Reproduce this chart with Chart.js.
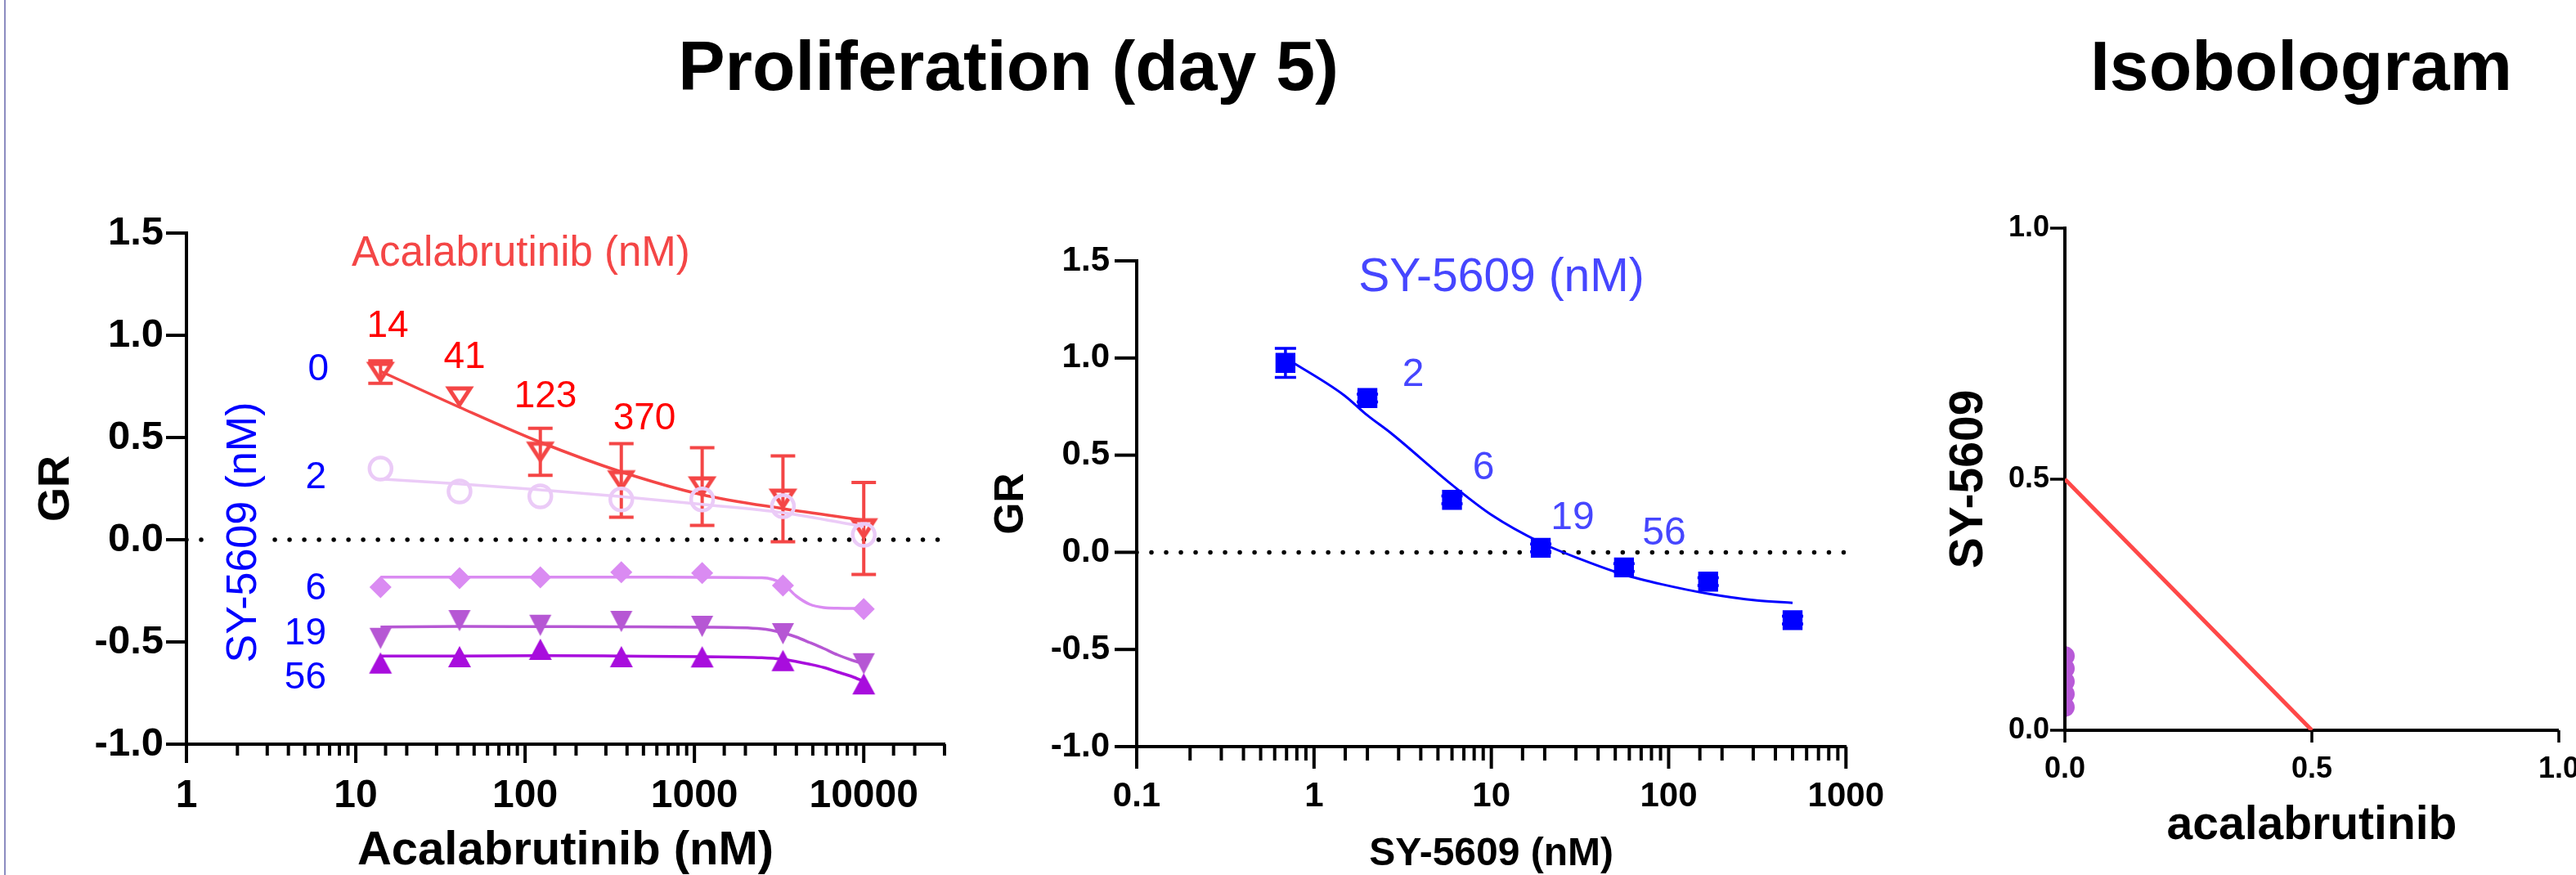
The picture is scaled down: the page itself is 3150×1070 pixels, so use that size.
<!DOCTYPE html>
<html><head><meta charset="utf-8">
<script src="https://cdn.jsdelivr.net/npm/chart.js@4.4.1/dist/chart.umd.min.js"></script>
<style>
html,body{margin:0;padding:0;background:#fff;}
body{width:3150px;height:1070px;overflow:hidden;position:relative;font-family:"Liberation Sans",Arial,sans-serif;}
canvas{position:absolute;top:0;}
.title{position:absolute;top:38px;width:1000px;text-align:center;font-weight:bold;font-size:86px;line-height:85px;color:#000;white-space:nowrap;}
#edge{position:absolute;left:5px;top:0;width:2px;height:1070px;background:#8c8cc0;}
</style></head><body>
<div id="edge"></div>
<div class="title" style="left:733px">Proliferation (day 5)</div>
<div class="title" style="left:2314px">Isobologram</div>
<canvas id="c1" width="1190" height="1070" style="left:0px;width:1190px;height:1070px"></canvas>
<canvas id="c2" width="1150" height="1070" style="left:1190px;width:1150px;height:1070px"></canvas>
<canvas id="c3" width="850" height="1070" style="left:2330px;width:850px;height:1070px"></canvas>
<script>
// ---------------- DATA ----------------
// Panel 1: acalabrutinib dose response at fixed SY-5609 doses
const acalaConc = [14, 41, 123, 370, 1111, 3333, 10000];
const gr_SY0  = [0.82, 0.70, 0.43, 0.29, 0.26, 0.20, 0.055];
const sem_SY0 = [0.055, 0, 0.115, 0.18, 0.19, 0.21, 0.225];
const gr_SY2  = [0.348, 0.236, 0.212, 0.197, 0.197, 0.164, 0.024];
const gr_SY6  = [-0.232, -0.188, -0.184, -0.159, -0.163, -0.224, -0.339];
const gr_SY19 = [-0.483, -0.396, -0.419, -0.400, -0.424, -0.460, -0.607];
const gr_SY56 = [-0.603, -0.572, -0.536, -0.572, -0.573, -0.591, -0.705];
// fitted curves
const fitY_SY0 = [0.824, 0.648, 0.477, 0.332, 0.22, 0.152, 0.096];
const fitY_SY2 = [0.297, 0.273, 0.244, 0.211, 0.173, 0.132, 0.064];
const fitX_tail = [14, 41, 123, 370, 1111, 2500, 3333, 4000, 4800, 5800, 7000, 8500, 10000];
const fitY_SY6  = [-0.183, -0.183, -0.183, -0.183, -0.184, -0.186, -0.216, -0.276, -0.316, -0.332, -0.335, -0.336, -0.336];
const fitY_SY19 = [-0.427, -0.424, -0.425, -0.426, -0.428, -0.436, -0.456, -0.476, -0.503, -0.532, -0.563, -0.589, -0.607];
const fitY_SY56 = [-0.569, -0.569, -0.567, -0.569, -0.572, -0.577, -0.585, -0.596, -0.609, -0.625, -0.647, -0.669, -0.693];
const acalaDoseLabels = ['14', '41', '123', '370'];
const syDoseLabels1 = ['0', '2', '6', '19', '56'];

// Panel 2: SY-5609 dose response
const syConc = [0.69, 2, 6, 19, 56, 167, 500];
const gr_SY  = [0.975, 0.794, 0.27, 0.023, -0.078, -0.151, -0.349];
const sem_SY = [0.075, 0.02, 0.02, 0.02, 0.02, 0.02, 0.02];
const fitX_SY = [0.69, 1.47, 2, 2.72, 6, 10, 19, 32.4, 56, 91, 167, 315, 500];
const fitY_SY = [1.0, 0.81, 0.705, 0.613, 0.347, 0.193, 0.05, -0.038, -0.115, -0.164, -0.213, -0.248, -0.26];
const syDoseLabels2 = ['2', '6', '19', '56'];

// Panel 3: isobologram
const isoAddX = [0, 0.5];
const isoAddY = [0.5, 0];
const isoComboX = [0, 0, 0, 0, 0];
const isoComboY = [0.148, 0.123, 0.097, 0.072, 0.046];

// axis ranges
const GR_MIN = -1, GR_MAX = 1.5, GR_STEP = 0.5;
const ACALA_MIN = 1, ACALA_MAX = 30000;
const SY_MIN = 0.1, SY_MAX = 1000;
const ISO_MIN = 0, ISO_MAX = 1, ISO_STEP = 0.5;

// ---------------- STYLE ----------------
const FONT = '"Liberation Sans", Arial, sans-serif';
Chart.defaults.font.family = FONT;
Chart.defaults.color = '#000';
const C = {
  red: '#F44646', redText: '#FF0000', lav: '#EBCBF7', sy6: '#DA8BF2', sy19: '#B657D4', sy56: '#A80DDD',
  blue: '#0000FF', blueText1: '#0000FF', blueText2: '#4646FF', isoRed: '#FF4848', isoDot: '#B85AD8'
};

function pts(xs, ys) { return xs.map((x, i) => ({ x: x, y: ys[i] })); }

function markerTri(w, h, down, color, filled, lw) {
  const pad = Math.ceil(lw * 2 + 2);
  const c = document.createElement('canvas');
  c.width = Math.ceil(w + 2 * pad); c.height = Math.ceil(h + 2 * pad);
  const g = c.getContext('2d');
  const x0 = pad, x1 = pad + w, xm = pad + w / 2, yt = pad, yb = pad + h;
  g.beginPath();
  if (down) { g.moveTo(x0, yt); g.lineTo(x1, yt); g.lineTo(xm, yb); }
  else { g.moveTo(xm, yt); g.lineTo(x1, yb); g.lineTo(x0, yb); }
  g.closePath();
  if (filled) { g.fillStyle = color; g.fill(); }
  else { g.strokeStyle = color; g.lineWidth = lw; g.lineJoin = 'miter'; g.stroke(); }
  return c;
}
const mkRedOpen = markerTri(26, 20, true, C.red, false, 5);
const mk19 = markerTri(27, 26, true, C.sy19, true, 0);
const mk56 = markerTri(28, 26, false, C.sy56, true, 0);

function isDecade(v) { const l = Math.log10(v); return Math.abs(l - Math.round(l)) < 1e-6; }
function decadeLabel(v) { return isDecade(v) ? String(v) : ''; }

// ---------------- PLUGINS ----------------
const TICKS = {
  c1: { xMajor: 23, xMinor: 14, yLen: 25, width: 4 },
  c2: { xMajor: 27, xMinor: 17, yLen: 27, width: 4 },
  c3: { xMajor: 15, xMinor: 15, yLen: 18, width: 3.5 }
};
const axisTicks = {
  id: 'axisTicks',
  afterDraw(chart) {
    const o = TICKS[chart.canvas.id]; if (!o) return;
    const ctx = chart.ctx, xs = chart.scales.x, ys = chart.scales.y;
    ctx.save(); ctx.strokeStyle = '#000'; ctx.lineWidth = o.width; ctx.lineCap = 'butt';
    xs.ticks.forEach(t => {
      const major = xs.type === 'logarithmic' ? isDecade(t.value) : true;
      const px = xs.getPixelForValue(t.value);
      ctx.beginPath(); ctx.moveTo(px, xs.top); ctx.lineTo(px, xs.top + (major ? o.xMajor : o.xMinor)); ctx.stroke();
    });
    ys.ticks.forEach(t => {
      const py = ys.getPixelForValue(t.value);
      ctx.beginPath(); ctx.moveTo(ys.right - o.yLen, py); ctx.lineTo(ys.right, py); ctx.stroke();
    });
    ctx.restore();
  }
};
const errorBars = {
  id: 'errorBars',
  afterDatasetDraw(chart, args) {
    const ds = chart.data.datasets[args.index];
    if (!ds.errorBars) return;
    const eb = ds.errorBars, xs = chart.scales.x, ys = chart.scales.y, ctx = chart.ctx;
    ctx.save(); ctx.strokeStyle = eb.color; ctx.lineWidth = eb.width; ctx.lineCap = 'butt';
    ds.data.forEach((p, i) => {
      const e = eb.values[i]; if (!e) return;
      const px = xs.getPixelForValue(p.x);
      const yt = ys.getPixelForValue(p.y + e), yb = ys.getPixelForValue(p.y - e);
      ctx.beginPath();
      ctx.moveTo(px, yt); ctx.lineTo(px, yb);
      ctx.moveTo(px - eb.cap, yt); ctx.lineTo(px + eb.cap, yt);
      ctx.moveTo(px - eb.cap, yb); ctx.lineTo(px + eb.cap, yb);
      ctx.stroke();
    });
    ctx.restore();
  }
};
// free text labels (page coordinates)
const OFFSET = { c1: 0, c2: 1190, c3: 2330 };
const ANNOT = {
  c1: [
    { text: 'Acalabrutinib (nM)', x: 430, y: 325, align: 'left', size: 51, color: C.red },
    { text: acalaDoseLabels[0], x: 474, y: 412, size: 46, color: C.redText },
    { text: acalaDoseLabels[1], x: 568, y: 450, size: 46, color: C.redText },
    { text: acalaDoseLabels[2], x: 667, y: 498, size: 46, color: C.redText },
    { text: acalaDoseLabels[3], x: 788, y: 525, size: 46, color: C.redText },
    { text: syDoseLabels1[0], x: 402, y: 465, align: 'right', size: 46, color: C.blueText1 },
    { text: syDoseLabels1[1], x: 399, y: 597, align: 'right', size: 46, color: C.blueText1 },
    { text: syDoseLabels1[2], x: 399, y: 733, align: 'right', size: 46, color: C.blueText1 },
    { text: syDoseLabels1[3], x: 399, y: 788, align: 'right', size: 46, color: C.blueText1 },
    { text: syDoseLabels1[4], x: 399, y: 842, align: 'right', size: 46, color: C.blueText1 },
    { text: 'SY-5609 (nM)', x: 313, y: 651, rotate: -Math.PI / 2, size: 52, color: C.blueText1, bg: [-165, -58, 330, 78] }
  ],
  c2: [
    { text: 'SY-5609 (nM)', x: 1836, y: 356, size: 57, color: C.blueText2 },
    { text: syDoseLabels2[0], x: 1728, y: 472, size: 48, color: C.blueText2 },
    { text: syDoseLabels2[1], x: 1814, y: 586, size: 48, color: C.blueText2 },
    { text: syDoseLabels2[2], x: 1923, y: 647, size: 48, color: C.blueText2 },
    { text: syDoseLabels2[3], x: 2035, y: 666, size: 48, color: C.blueText2 }
  ]
};
const annot = {
  id: 'annot',
  afterDatasetsDraw(chart) {
    const items = ANNOT[chart.canvas.id]; if (!items) return;
    const ox = OFFSET[chart.canvas.id], ctx = chart.ctx;
    items.forEach(it => {
      ctx.save();
      ctx.translate(it.x - ox, it.y);
      if (it.rotate) ctx.rotate(it.rotate);
      if (it.bg) { ctx.fillStyle = '#fff'; ctx.fillRect(it.bg[0], it.bg[1], it.bg[2], it.bg[3]); }
      ctx.font = it.size + 'px ' + FONT;
      ctx.fillStyle = it.color; ctx.textAlign = it.align || 'center'; ctx.textBaseline = 'alphabetic';
      ctx.fillText(it.text, 0, 0);
      ctx.restore();
    });
  }
};
Chart.register(axisTicks, errorBars, annot);

function yAxis(width, tickSize, tickPad, title, titleSize, titlePad, min, max, step) {
  return {
    type: 'linear', min: min, max: max,
    grid: { display: false, drawTicks: false },
    border: { display: true, color: '#000', width: 4 },
    ticks: { stepSize: step, padding: tickPad, font: { size: tickSize, weight: 'bold' }, color: '#000', callback: v => Number(v).toFixed(1) },
    title: { display: true, text: title, color: '#000', font: { size: titleSize, weight: 'bold', lineHeight: 1 }, padding: { top: titlePad, bottom: 0 } },
    afterFit: s => { s.width = width; }
  };
}
function xAxis(type, min, max, height, tickSize, tickPad, title, titleSize, titlePad, cb, step) {
  const t = { autoSkip: false, maxRotation: 0, minRotation: 0, padding: tickPad, font: { size: tickSize, weight: 'bold' }, color: '#000', callback: cb };
  if (step) t.stepSize = step;
  return {
    type: type, min: min, max: max,
    grid: { display: false, drawTicks: false },
    border: { display: true, color: '#000', width: 4 },
    ticks: t,
    title: { display: true, text: title, color: '#000', font: { size: titleSize, weight: 'bold', lineHeight: 1 }, padding: { top: 0, bottom: titlePad } },
    afterFit: s => { s.height = height; }
  };
}
function baseOpts(padding, scales) {
  return {
    responsive: false, animation: false, devicePixelRatio: 1, events: [],
    layout: { padding: padding, autoPadding: false },
    plugins: { legend: { display: false }, tooltip: { enabled: false }, title: { display: false } },
    scales: scales
  };
}
const zeroLine = (a, b) => ({ data: [{ x: a, y: 0 }, { x: b, y: 0 }], borderColor: '#000', borderWidth: 5.5, borderDash: [0.01, 18], borderCapStyle: 'round', pointRadius: 0, order: 20 });
const fitLine = (xs, ys, color, w, order) => ({ data: pts(xs, ys), borderColor: color, borderWidth: w, pointRadius: 0, cubicInterpolationMode: 'monotone', fill: false, order: order });

// ---------------- PANEL 1 ----------------
new Chart(document.getElementById('c1'), {
  type: 'line',
  data: { datasets: [
    zeroLine(ACALA_MIN, ACALA_MAX),
    fitLine(fitX_tail, fitY_SY56, C.sy56, 3.5, 11),
    { label: 'SY-5609 56 nM', data: pts(acalaConc, gr_SY56), showLine: false, pointStyle: mk56, pointRadius: 13, order: 10 },
    fitLine(fitX_tail, fitY_SY19, C.sy19, 3.5, 9),
    { label: 'SY-5609 19 nM', data: pts(acalaConc, gr_SY19), showLine: false, pointStyle: mk19, pointRadius: 13, order: 8 },
    fitLine(fitX_tail, fitY_SY6, C.sy6, 3.5, 7),
    { label: 'SY-5609 6 nM', data: pts(acalaConc, gr_SY6), showLine: false, pointStyle: 'rectRot', pointRadius: 13.5, pointBackgroundColor: C.sy6, pointBorderWidth: 0, order: 6 },
    fitLine(acalaConc, fitY_SY0, C.red, 3.5, 5),
    { label: 'SY-5609 0 nM', data: pts(acalaConc, gr_SY0), showLine: false, pointStyle: mkRedOpen, pointRadius: 13, order: 4,
      errorBars: { values: sem_SY0, color: C.red, width: 4, cap: 15 } },
    fitLine(acalaConc, fitY_SY2, C.lav, 3.5, 3),
    { label: 'SY-5609 2 nM', data: pts(acalaConc, gr_SY2), showLine: false, pointStyle: 'circle', pointRadius: 13.5, pointBackgroundColor: 'rgba(0,0,0,0)', pointBorderColor: C.lav, pointBorderWidth: 4.5, order: 2 }
  ] },
  options: baseOpts({ left: 0, right: 32, top: 285, bottom: 0 }, {
    x: xAxis('logarithmic', ACALA_MIN, ACALA_MAX, 160, 48, 35, 'Acalabrutinib (nM)', 58, 0, decadeLabel),
    y: yAxis(228, 49, 28, 'GR', 54, 42, GR_MIN, GR_MAX, GR_STEP)
  })
});

// ---------------- PANEL 2 ----------------
new Chart(document.getElementById('c2'), {
  type: 'line',
  data: { datasets: [
    zeroLine(SY_MIN, SY_MAX),
    fitLine(fitX_SY, fitY_SY, C.blue, 3, 3),
    { label: 'SY-5609', data: pts(syConc, gr_SY), showLine: false, pointStyle: 'rect', pointRadius: 17.2, pointBackgroundColor: C.blue, pointBorderWidth: 0, order: 2,
      errorBars: { values: sem_SY, color: C.blue, width: 3.5, cap: 13 } }
  ] },
  options: baseOpts({ left: 0, right: 58, top: 319, bottom: 0 }, {
    x: xAxis('logarithmic', SY_MIN, SY_MAX, 157, 42, 36, 'SY-5609 (nM)', 48, 1, decadeLabel),
    y: yAxis(200, 42, 33, 'GR', 50, 22, GR_MIN, GR_MAX, GR_STEP)
  })
});

// ---------------- PANEL 3 ----------------
new Chart(document.getElementById('c3'), {
  type: 'line',
  data: { datasets: [
    { label: 'additivity', data: pts(isoAddX, isoAddY), borderColor: C.isoRed, borderWidth: 5, pointRadius: 0, order: 2 },
    { label: 'combinations', data: pts(isoComboX, isoComboY), showLine: false, pointStyle: 'circle', pointRadius: 12, pointBackgroundColor: C.isoDot, pointBorderWidth: 0, order: 1,
      clip: { left: -2, top: 0, right: 0, bottom: 0 } }
  ] },
  options: baseOpts({ left: 0, right: 40, top: 279, bottom: 0 }, {
    x: xAxis('linear', ISO_MIN, ISO_MAX, 177, 36, 26, 'acalabrutinib', 57, 31, v => Number(v).toFixed(1), ISO_STEP),
    y: yAxis(195, 36, 19, 'SY-5609', 57, 50, ISO_MIN, ISO_MAX, ISO_STEP)
  })
});
</script>
</body></html>
